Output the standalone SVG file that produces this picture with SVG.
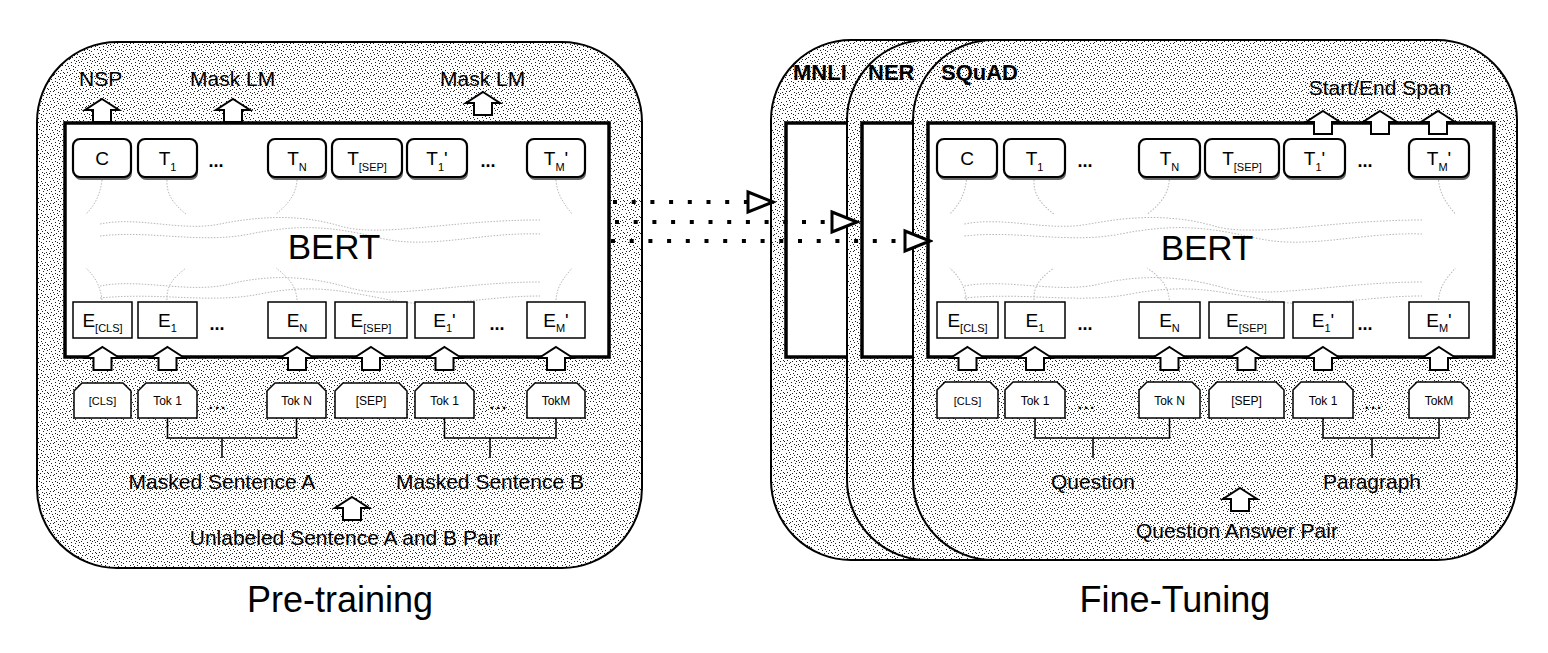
<svg xmlns="http://www.w3.org/2000/svg" xmlns:xlink="http://www.w3.org/1999/xlink" width="1548" height="653" viewBox="0 0 1548 653">
<style>
  text{font-family:"Liberation Sans",Arial,Helvetica,sans-serif;fill:#000}
  .panel{fill:url(#stip);stroke:#000;stroke-width:2}
  .bert{fill:#fff;stroke:#000;stroke-width:3.5}
  .tsh{fill:#666}
  .tbox{fill:#fff;stroke:#000;stroke-width:2.2}
  .ebox{fill:#fff;stroke:#000;stroke-width:1.5}
  .tok{fill:#fff;stroke:#000;stroke-width:1.5;stroke-linejoin:miter}
  .arr{fill:#fff;stroke:#000;stroke-width:2;stroke-linejoin:miter}
  .brk{fill:none;stroke:#000;stroke-width:1.5}
  .dotline{fill:none;stroke:#000;stroke-width:4;stroke-dasharray:4 14.7}
  .lbl{font-size:19px;text-anchor:middle}
  .sub{font-size:11px}
  .tk{font-size:12px;text-anchor:middle}
  .dots{font-size:18px;text-anchor:middle;font-weight:bold}
  .tdots{font-size:15px;text-anchor:middle;font-weight:bold;letter-spacing:2px}
  .cap{font-size:21px}
  .task{font-size:22px;font-weight:bold}
  .big{font-size:35px;text-anchor:middle}
  .title{font-size:36px;text-anchor:middle}
  .mid{text-anchor:middle}
</style>
<defs>
  <pattern id="stip" width="16" height="16" patternUnits="userSpaceOnUse">
    <rect width="16" height="16" fill="#fff"/>
    <g fill="#222">
      <rect x="1" y="1" width="1" height="1"/><rect x="4" y="2" width="1" height="1"/><rect x="7" y="1" width="1" height="1"/>
      <rect x="11" y="3" width="1" height="1"/><rect x="14" y="1" width="1" height="1"/><rect x="2" y="5" width="1" height="1"/>
      <rect x="6" y="6" width="1" height="1"/><rect x="9" y="5" width="1" height="1"/><rect x="13" y="6" width="1" height="1"/>
      <rect x="0" y="9" width="1" height="1"/><rect x="3" y="8" width="1" height="1"/><rect x="8" y="9" width="1" height="1"/>
      <rect x="12" y="9" width="1" height="1"/><rect x="15" y="8" width="1" height="1"/><rect x="5" y="11" width="1" height="1"/>
      <rect x="10" y="12" width="1" height="1"/><rect x="1" y="13" width="1" height="1"/><rect x="14" y="12" width="1" height="1"/>
      <rect x="7" y="14" width="1" height="1"/><rect x="3" y="15" width="1" height="1"/><rect x="11" y="15" width="1" height="1"/>
      <rect x="15" y="14" width="1" height="1"/><rect x="9" y="2" width="1" height="1"/><rect x="5" y="4" width="1" height="1"/>
      <rect x="12" y="13" width="1" height="1"/><rect x="6" y="10" width="1" height="1"/><rect x="2" y="11" width="1" height="1"/>
      <rect x="10" y="7" width="1" height="1"/>
    </g>
  </pattern>
  <path id="blk" class="arr" d="M0,0 L17,11 L9,11 L9,23 L-9,23 L-9,11 L-17,11 Z"/>
  <marker id="openTri" markerUnits="userSpaceOnUse" viewBox="-3 -3 31 26" markerWidth="31" markerHeight="26" refX="25" refY="10" orient="auto">
    <path d="M0,0 L25,10 L0,20 Z" fill="#fff" stroke="#000" stroke-width="3" stroke-linejoin="miter"/>
  </marker>
  <g id="bertLines" fill="none" stroke="#b8b8b8" stroke-width="1" stroke-dasharray="1.5 1.5">
    <path d="M100,224 C140,216 180,232 220,224 S300,214 340,226 S450,220 540,220"/>
    <path d="M100,236 C150,230 200,244 250,234 S330,226 380,238 S480,232 540,234"/>
    <path d="M100,286 C140,278 190,294 230,284 S310,276 350,288 S460,282 540,282"/>
    <path d="M100,298 C160,292 210,304 260,294 S340,290 390,300 S480,296 540,296"/>
    <path d="M102,180 C100,196 94,206 86,214"/>
    <path d="M167,180 C166,196 176,206 186,214"/>
    <path d="M297,180 C296,196 286,206 276,214"/>
    <path d="M556,180 C557,196 566,206 572,214"/>
    <path d="M102,300 C100,284 94,276 86,268"/>
    <path d="M167,300 C166,284 176,276 186,268"/>
    <path d="M297,300 C296,284 286,276 276,268"/>
    <path d="M556,300 C557,284 566,276 572,268"/>
  </g>
</defs>

<rect width="1548" height="653" fill="#fff"/>

<!-- ===================== PRE-TRAINING ===================== -->
<g id="pretrain-panel">
  <rect class="panel" x="37" y="42" width="605" height="526" rx="80" ry="80"/>
</g>
<g id="pretrain-bert">
  <rect class="bert" x="65" y="123" width="544" height="234"/>
  <use xlink:href="#bertLines"/>
  <text class="big" x="334" y="259">BERT</text>
</g>

<g id="L-C"><rect class="tsh" x="74" y="142" width="58" height="38" rx="7"/><rect class="tbox" x="73" y="139" width="58" height="38" rx="7"/><text class="lbl" x="102" y="165">C</text></g>
<g id="L-T1"><rect class="tsh" x="139" y="142" width="59" height="38" rx="7"/><rect class="tbox" x="138" y="139" width="59" height="38" rx="7"/><text class="lbl" x="167.5" y="165">T<tspan class="sub" dy="6">1</tspan></text></g>
<text class="dots" x="216" y="167">...</text>
<g id="L-TN"><rect class="tsh" x="269" y="142" width="58" height="38" rx="7"/><rect class="tbox" x="268" y="139" width="58" height="38" rx="7"/><text class="lbl" x="297" y="165">T<tspan class="sub" dy="6">N</tspan></text></g>
<g id="L-TSEP"><rect class="tsh" x="333" y="142" width="70" height="38" rx="7"/><rect class="tbox" x="332" y="139" width="70" height="38" rx="7"/><text class="lbl" x="367" y="165">T<tspan class="sub" dy="6">[SEP]</tspan></text></g>
<g id="L-T1p"><rect class="tsh" x="408" y="142" width="60" height="38" rx="7"/><rect class="tbox" x="407" y="139" width="60" height="38" rx="7"/><text class="lbl" x="437" y="165">T<tspan class="sub" dy="6">1</tspan><tspan dy="-6">'</tspan></text></g>
<text class="dots" x="488" y="167">...</text>
<g id="L-TMp"><rect class="tsh" x="528" y="142" width="58" height="38" rx="7"/><rect class="tbox" x="527" y="139" width="58" height="38" rx="7"/><text class="lbl" x="556" y="165">T<tspan class="sub" dy="6">M</tspan><tspan dy="-6">'</tspan></text></g>

<g id="L-ECLS"><rect class="ebox" x="73" y="302" width="59" height="36"/><text class="lbl" x="102.5" y="327">E<tspan class="sub" dy="5">[CLS]</tspan></text></g>
<g id="L-E1"><rect class="ebox" x="138" y="302" width="59" height="36"/><text class="lbl" x="167.5" y="327">E<tspan class="sub" dy="5">1</tspan></text></g>
<text class="dots" x="217" y="330">...</text>
<g id="L-EN"><rect class="ebox" x="268" y="302" width="58" height="36"/><text class="lbl" x="297" y="327">E<tspan class="sub" dy="5">N</tspan></text></g>
<g id="L-ESEP"><rect class="ebox" x="335" y="302" width="72" height="36"/><text class="lbl" x="371" y="327">E<tspan class="sub" dy="5">[SEP]</tspan></text></g>
<g id="L-E1p"><rect class="ebox" x="415" y="302" width="59" height="36"/><text class="lbl" x="444.5" y="327">E<tspan class="sub" dy="5">1</tspan><tspan dy="-5">'</tspan></text></g>
<text class="dots" x="497" y="330">...</text>
<g id="L-EMp"><rect class="ebox" x="527" y="302" width="58" height="36"/><text class="lbl" x="556" y="327">E<tspan class="sub" dy="5">M</tspan><tspan dy="-5">'</tspan></text></g>

<g id="L-tokCLS"><path class="tok" d="M74,391 L82,383 L123,383 L131,391 V418 H74 Z"/><text class="tk" x="102.5" y="405" style="font-size:11px">[CLS]</text></g>
<g id="L-tok1"><path class="tok" d="M138,391 L146,383 L189,383 L197,391 V418 H138 Z"/><text class="tk" x="167.5" y="405">Tok 1</text></g>
<text class="tdots" x="218" y="409">...</text>
<g id="L-tokN"><path class="tok" d="M267,391 L275,383 L318,383 L326,391 V418 H267 Z"/><text class="tk" x="296.5" y="405">Tok N</text></g>
<g id="L-tokSEP"><path class="tok" d="M335,391 L343,383 L399,383 L407,391 V418 H335 Z"/><text class="tk" x="371" y="405">[SEP]</text></g>
<g id="L-tok1b"><path class="tok" d="M415,391 L423,383 L466,383 L474,391 V418 H415 Z"/><text class="tk" x="444.5" y="405">Tok 1</text></g>
<text class="tdots" x="499" y="409">...</text>
<g id="L-tokM"><path class="tok" d="M527,391 L535,383 L577,383 L585,391 V418 H527 Z"/><text class="tk" x="556" y="405">TokM</text></g>

<g id="L-labels">
  <text class="cap" x="79" y="86">NSP</text>
  <text class="cap" x="190" y="86">Mask LM</text>
  <text class="cap" x="440" y="86">Mask LM</text>
  <text class="cap mid" x="222" y="489">Masked Sentence A</text>
  <text class="cap mid" x="490" y="489">Masked Sentence B</text>
  <text class="cap mid" x="345" y="545">Unlabeled Sentence A and B Pair</text>
  <text class="title" x="340" y="612">Pre-training</text>
</g>

<!-- ===================== FINE-TUNING ===================== -->
<g id="mnli-panel">
  <rect class="panel" x="771" y="40" width="600" height="520" rx="80" ry="80"/>
  <rect class="bert" x="786" y="123" width="500" height="234"/>
  <text class="task" x="793" y="80">MNLI</text>
</g>
<g id="ner-panel">
  <rect class="panel" x="847" y="40" width="560" height="520" rx="80" ry="80"/>
  <rect class="bert" x="862" y="123" width="500" height="234"/>
  <text class="task" x="868" y="80">NER</text>
</g>
<g id="squad-panel">
  <rect class="panel" x="913" y="40" width="604" height="520" rx="80" ry="80"/>
  <text class="task" x="941" y="80">SQuAD</text>
</g>
<g id="squad-bert">
  <rect class="bert" x="928" y="123" width="566" height="234"/>
  <use xlink:href="#bertLines" transform="translate(928,0) scale(1.04,1) translate(-65,0)"/>
  <text class="big" x="1207" y="260">BERT</text>
</g>

<g id="R-C"><rect class="tsh" x="938" y="142" width="60" height="38" rx="7"/><rect class="tbox" x="937" y="139" width="60" height="38" rx="7"/><text class="lbl" x="967" y="165">C</text></g>
<g id="R-T1"><rect class="tsh" x="1005" y="142" width="61" height="38" rx="7"/><rect class="tbox" x="1004" y="139" width="61" height="38" rx="7"/><text class="lbl" x="1034.5" y="165">T<tspan class="sub" dy="6">1</tspan></text></g>
<text class="dots" x="1085" y="167">...</text>
<g id="R-TN"><rect class="tsh" x="1140" y="142" width="61" height="38" rx="7"/><rect class="tbox" x="1139" y="139" width="61" height="38" rx="7"/><text class="lbl" x="1169.5" y="165">T<tspan class="sub" dy="6">N</tspan></text></g>
<g id="R-TSEP"><rect class="tsh" x="1206" y="142" width="74" height="38" rx="7"/><rect class="tbox" x="1205" y="139" width="74" height="38" rx="7"/><text class="lbl" x="1242" y="165">T<tspan class="sub" dy="6">[SEP]</tspan></text></g>
<g id="R-T1p"><rect class="tsh" x="1285" y="142" width="61" height="38" rx="7"/><rect class="tbox" x="1284" y="139" width="61" height="38" rx="7"/><text class="lbl" x="1314.5" y="165">T<tspan class="sub" dy="6">1</tspan><tspan dy="-6">'</tspan></text></g>
<text class="dots" x="1365" y="167">...</text>
<g id="R-TMp"><rect class="tsh" x="1410" y="142" width="60" height="38" rx="7"/><rect class="tbox" x="1409" y="139" width="60" height="38" rx="7"/><text class="lbl" x="1439" y="165">T<tspan class="sub" dy="6">M</tspan><tspan dy="-6">'</tspan></text></g>

<g id="R-ECLS"><rect class="ebox" x="937" y="302" width="61" height="36"/><text class="lbl" x="967.5" y="327">E<tspan class="sub" dy="5">[CLS]</tspan></text></g>
<g id="R-E1"><rect class="ebox" x="1005" y="302" width="60" height="36"/><text class="lbl" x="1035" y="327">E<tspan class="sub" dy="5">1</tspan></text></g>
<text class="dots" x="1085" y="330">...</text>
<g id="R-EN"><rect class="ebox" x="1139" y="302" width="61" height="36"/><text class="lbl" x="1169.5" y="327">E<tspan class="sub" dy="5">N</tspan></text></g>
<g id="R-ESEP"><rect class="ebox" x="1209" y="302" width="75" height="36"/><text class="lbl" x="1246.5" y="327">E<tspan class="sub" dy="5">[SEP]</tspan></text></g>
<g id="R-E1p"><rect class="ebox" x="1293" y="302" width="60" height="36"/><text class="lbl" x="1323" y="327">E<tspan class="sub" dy="5">1</tspan><tspan dy="-5">'</tspan></text></g>
<text class="dots" x="1365" y="330">...</text>
<g id="R-EMp"><rect class="ebox" x="1409" y="302" width="60" height="36"/><text class="lbl" x="1439" y="327">E<tspan class="sub" dy="5">M</tspan><tspan dy="-5">'</tspan></text></g>

<g id="R-tokCLS"><path class="tok" d="M937,390 L945,382 L990,382 L998,390 V418 H937 Z"/><text class="tk" x="967.5" y="405" style="font-size:11px">[CLS]</text></g>
<g id="R-tok1"><path class="tok" d="M1005,390 L1013,382 L1057,382 L1065,390 V418 H1005 Z"/><text class="tk" x="1035" y="405">Tok 1</text></g>
<text class="tdots" x="1087" y="409">...</text>
<g id="R-tokN"><path class="tok" d="M1139,390 L1147,382 L1192,382 L1200,390 V418 H1139 Z"/><text class="tk" x="1169.5" y="405">Tok N</text></g>
<g id="R-tokSEP"><path class="tok" d="M1209,390 L1217,382 L1276,382 L1284,390 V418 H1209 Z"/><text class="tk" x="1246.5" y="405">[SEP]</text></g>
<g id="R-tok1b"><path class="tok" d="M1293,390 L1301,382 L1345,382 L1353,390 V418 H1293 Z"/><text class="tk" x="1323" y="405">Tok 1</text></g>
<text class="tdots" x="1374" y="409">...</text>
<g id="R-tokM"><path class="tok" d="M1409,390 L1417,382 L1461,382 L1469,390 V418 H1409 Z"/><text class="tk" x="1439" y="405">TokM</text></g>

<g id="R-labels">
  <text class="cap mid" x="1380" y="95">Start/End Span</text>
  <text class="cap mid" x="1093" y="489">Question</text>
  <text class="cap mid" x="1372" y="489">Paragraph</text>
  <text class="cap mid" x="1237" y="538">Question Answer Pair</text>
  <text class="title" x="1175" y="612">Fine-Tuning</text>
</g>

<!-- ===================== CONNECTORS ===================== -->
<g id="connectors">
  <path class="brk" d="M167.5,418 V438 H296.5 V418 M222,438 V458"/>
  <path class="brk" d="M444.5,418 V438 H556 V418 M490,438 V458"/>
  <path class="brk" d="M1035,418 V438 H1169.5 V418 M1093,438 V458"/>
  <path class="brk" d="M1323,418 V438 H1439 V418 M1372,438 V458"/>
  <use xlink:href="#blk" x="102" y="99"/>
  <use xlink:href="#blk" x="233" y="99"/>
  <use xlink:href="#blk" x="483" y="92"/>
  <use xlink:href="#blk" x="102.5" y="347"/>
  <use xlink:href="#blk" x="167.5" y="347"/>
  <use xlink:href="#blk" x="297" y="347"/>
  <use xlink:href="#blk" x="371" y="347"/>
  <use xlink:href="#blk" x="444.5" y="347"/>
  <use xlink:href="#blk" x="556" y="347"/>
  <use xlink:href="#blk" x="352" y="497"/>
  <use xlink:href="#blk" x="1323" y="111"/>
  <use xlink:href="#blk" x="1380" y="111"/>
  <use xlink:href="#blk" x="1438" y="111"/>
  <use xlink:href="#blk" x="967.5" y="347"/>
  <use xlink:href="#blk" x="1035" y="347"/>
  <use xlink:href="#blk" x="1169.5" y="347"/>
  <use xlink:href="#blk" x="1246.5" y="347"/>
  <use xlink:href="#blk" x="1323" y="347"/>
  <use xlink:href="#blk" x="1439" y="347"/>
  <use xlink:href="#blk" x="1240" y="488"/>
  <path class="dotline" d="M613,202 H773" marker-end="url(#openTri)"/>
  <path class="dotline" d="M615,222 H857" marker-end="url(#openTri)"/>
  <path class="dotline" d="M611,241 H930" marker-end="url(#openTri)"/>
</g>
</svg>
